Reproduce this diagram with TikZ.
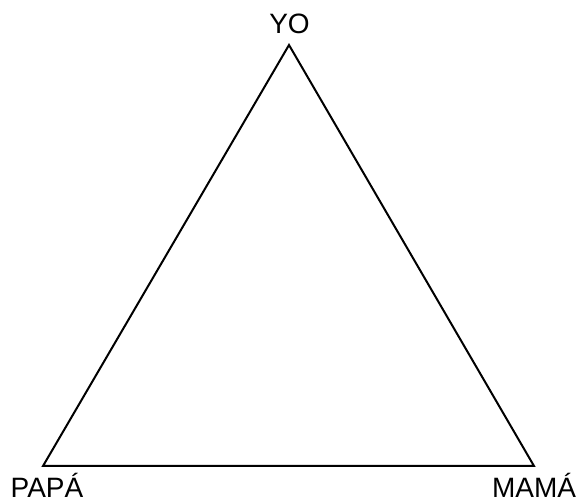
\documentclass[tikz,border=0pt]{standalone}
\usepackage{fontspec}
\setmainfont{Liberation Sans}
\usepackage{tikz}
\usetikzlibrary{positioning}

\tikzset{
  vertexlabel/.style={font=\fontsize{28}{30}\selectfont, inner sep=0pt, anchor=base},
  side/.style={line width=2pt}
}

\begin{document}
\begin{tikzpicture}[x=1pt, y=1pt]
            \useasboundingbox (0,0) rectangle (581,502);
            % Vertices
            \coordinate (top) at (289,457);
            \coordinate (left) at (43,36);
            \coordinate (right) at (534,36);
            % Labels
            \node[vertexlabel] (yo) at (289.5,468) {YO};
            \node[vertexlabel] (papa) at (47,4) {PAPÁ};
            \node[vertexlabel] (mama) at (534,4) {MAMÁ};
            % Triangle
            \draw[side] (top) -- (right) -- (left) -- cycle;
        \end{tikzpicture}
\end{document}
